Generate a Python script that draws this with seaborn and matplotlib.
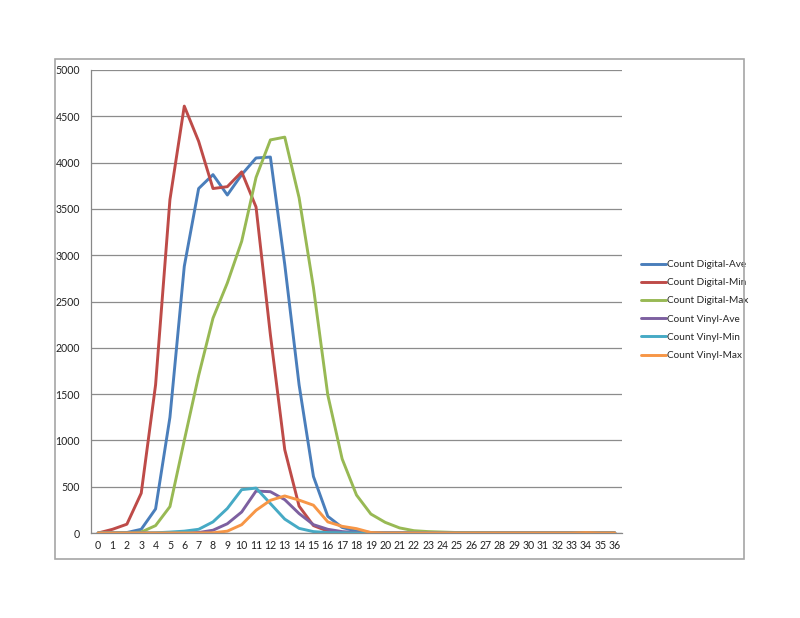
import numpy as np
import pandas as pd
import matplotlib
matplotlib.use("Agg")
import matplotlib.pyplot as plt
import seaborn as sns
from matplotlib.patches import Rectangle

x_values = list(range(0, 37))

digital_ave = [0, 0, 5, 40, 260, 1250, 2880, 3720, 3870, 3650, 3870, 4050, 4060, 2900, 1600, 610, 180, 60, 20, 5,
               0, 0, 0, 0, 0, 0, 0, 0, 0, 0, 0, 0, 0, 0, 0, 0, 0]
digital_min = [0, 40, 95, 430, 1600, 3600, 4610, 4230, 3720, 3740, 3900, 3520, 2140, 900, 290, 80, 20, 5, 0, 0,
               0, 0, 0, 0, 0, 0, 0, 0, 0, 0, 0, 0, 0, 0, 0, 0, 0]
digital_max = [0, 0, 0, 10, 80, 285, 1000, 1700, 2320, 2700, 3150, 3840, 4245, 4275, 3620, 2650, 1490, 800, 410, 205,
               115, 55, 25, 15, 10, 5, 3, 2, 0, 0, 0, 0, 0, 0, 0, 0, 0]
vinyl_ave = [0, 0, 0, 0, 0, 0, 2, 5, 30, 100, 227, 453, 446, 360, 210, 90, 40, 15, 5, 0,
             0, 0, 0, 0, 0, 0, 0, 0, 0, 0, 0, 0, 0, 0, 0, 0, 0]
vinyl_min = [0, 0, 0, 0, 2, 10, 20, 40, 120, 265, 468, 485, 318, 150, 50, 15, 5, 2, 0, 0,
             0, 0, 0, 0, 0, 0, 0, 0, 0, 0, 0, 0, 0, 0, 0, 0, 0]
vinyl_max = [0, 0, 0, 0, 0, 0, 0, 0, 2, 20, 90, 245, 353, 400, 355, 300, 120, 72, 47, 5,
             0, 0, 0, 0, 0, 0, 0, 0, 0, 0, 0, 0, 0, 0, 4, 0, 0]

series_names = ["Count Digital-Ave", "Count Digital-Min", "Count Digital-Max",
                "Count Vinyl-Ave", "Count Vinyl-Min", "Count Vinyl-Max"]
series_values = [digital_ave, digital_min, digital_max, vinyl_ave, vinyl_min, vinyl_max]
colors = ["#4a7ebb", "#be4b48", "#98b954", "#7d60a0", "#46aac5", "#f79646"]

y_ticks = [0, 500, 1000, 1500, 2000, 2500, 3000, 3500, 4000, 4500, 5000]

rows = []
for name, vals in zip(series_names, series_values):
    for xv, yv in zip(x_values, vals):
        rows.append({"x": xv, "value": yv, "series": name})
df = pd.DataFrame(rows)

sns.set_theme(style="white")
plt.rcParams["font.family"] = ["Lato", "DejaVu Sans"]

fig = plt.figure(figsize=(8, 6.18), dpi=100)
ax = fig.add_axes([91 / 800, 1 - 533 / 618, (622 - 91) / 800, (533 - 70) / 618])

sns.lineplot(data=df, x="x", y="value", hue="series", hue_order=series_names,
             palette=colors, linewidth=2.1, ax=ax, legend=True)

ax.set_xlim(-0.5, 36.5)
ax.set_ylim(0, 5000)
ax.set_yticks(y_ticks)
ax.set_yticklabels([str(t) for t in y_ticks], fontsize=7.6, color="#222222")
ax.set_xticks(x_values)
ax.set_xticklabels([str(v) for v in x_values], fontsize=7.6, color="#222222")
ax.set_xticks([v - 0.5 for v in x_values] + [36.5], minor=True)
ax.tick_params(axis="x", which="major", length=0, pad=5)
ax.tick_params(axis="x", which="minor", length=4, width=0.8, color="#888888", direction="out")
ax.tick_params(axis="y", which="major", length=4, width=0.8, color="#888888", direction="out", pad=4)
ax.yaxis.grid(True, color="#8c8c8c", linewidth=0.9)
ax.set_axisbelow(True)
ax.set_xlabel("")
ax.set_ylabel("")
for side in ["top", "right"]:
    ax.spines[side].set_visible(False)
for side in ["left", "bottom"]:
    ax.spines[side].set_color("#888888")
    ax.spines[side].set_linewidth(0.9)

leg = ax.legend(loc="upper left", bbox_to_anchor=(636 / 800, 1 - 255 / 618),
                bbox_transform=fig.transFigure, frameon=False, fontsize=7.2,
                handlelength=2.5, handletextpad=0.1, labelspacing=0.92, borderpad=0)
for line in leg.get_lines():
    line.set_linewidth(2.1)

fig.patches.append(Rectangle((55 / 800, 1 - 559 / 618), (744 - 55) / 800, (559 - 59) / 618,
                             transform=fig.transFigure, fill=False, edgecolor="#a6a6a6",
                             linewidth=1.2, zorder=0))

fig.savefig("out.png", dpi=100, facecolor="white")
